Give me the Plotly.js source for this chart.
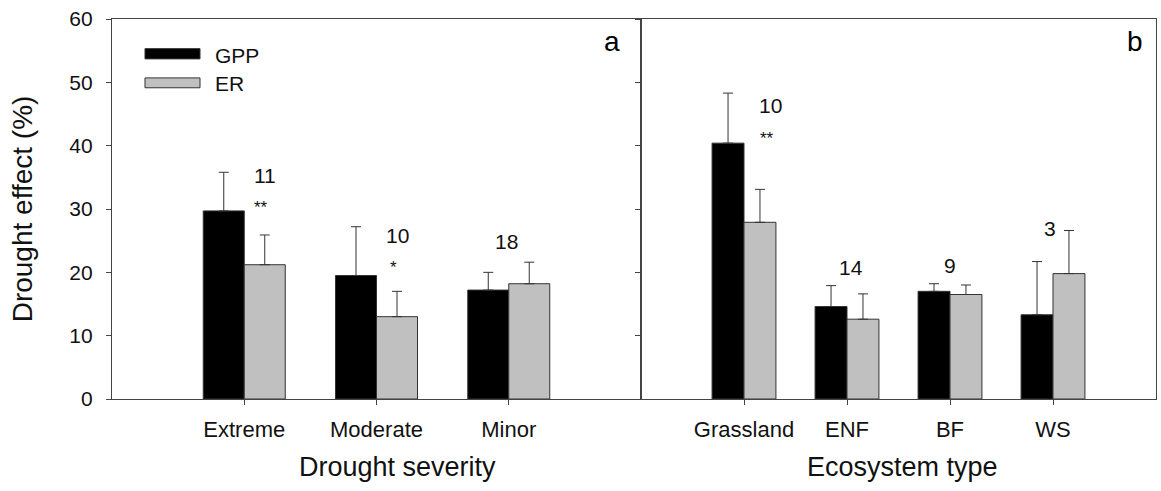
<!DOCTYPE html>
<html>
<head>
<meta charset="utf-8">
<script src="https://cdn.plot.ly/plotly-3.0.1.min.js"></script>
<style>html,body{margin:0;padding:0;background:#fff}#chart{width:1161px;height:491px}</style>
</head>
<body>
<div id="chart"></div>
<script>
// Panel a: drought severity
const severityCats = ["Extreme", "Moderate", "Minor"];
const severityGPP = [29.7, 19.5, 17.2];
const severityGPPErr = [6.1, 7.7, 2.8];
const severityER = [21.2, 13.0, 18.2];
const severityERErr = [4.7, 4.0, 3.4];
const severityN = ["11", "10", "18"];
const severitySig = ["**", "*", ""];

// Panel b: ecosystem type
const ecoCats = ["Grassland", "ENF", "BF", "WS"];
const ecoGPP = [40.4, 14.6, 17.0, 13.3];
const ecoGPPErr = [7.9, 3.3, 1.2, 8.4];
const ecoER = [27.9, 12.6, 16.5, 19.8];
const ecoERErr = [5.2, 4.0, 1.5, 6.8];
const ecoN = ["10", "14", "9", "3"];
const ecoSig = ["**", "", "", ""];

const yTicks = [0, 10, 20, 30, 40, 50, 60];
const seriesNames = ["GPP", "ER"];

const FONT = "Liberation Sans, Arial, sans-serif";
const gpp = "#000000", er = "#c0c0c0", edge = "#333333";

function bar(x, y, err, name, color, xa, ya) {
  return {
    type: "bar", x: x, y: y, name: name, xaxis: xa, yaxis: ya, showlegend: false,
    marker: {color: color, line: {color: edge, width: 1}},
    error_y: {type: "data", symmetric: false, array: err, arrayminus: err.map(() => 0),
              color: "#333", thickness: 1, width: 5}
  };
}

const data = [
  bar(severityCats, severityGPP, severityGPPErr, seriesNames[0], gpp, "x", "y"),
  bar(severityCats, severityER, severityERErr, seriesNames[1], er, "x", "y"),
  bar(ecoCats, ecoGPP, ecoGPPErr, seriesNames[0], gpp, "x2", "y2"),
  bar(ecoCats, ecoER, ecoERErr, seriesNames[1], er, "x2", "y2")
];

const numFont = {family: FONT, size: 21, color: "#111"};
const starFont = {family: FONT, size: 17, color: "#111"};
const annotations = [];
function addN(xref, yref, x, y, txt) {
  annotations.push({xref: xref, yref: yref, x: x, y: y, text: txt, showarrow: false, font: numFont,
    xanchor: "center", yanchor: "middle"});
}
function addSig(xref, yref, x, y, txt) {
  annotations.push({xref: xref, yref: yref, x: x, y: y, text: txt, showarrow: false, font: starFont,
    xanchor: "center", yanchor: "middle"});
}
// Panel a labels
severityCats.forEach((c, i) => {
  if (severitySig[i]) {
    const off = i === 0 ? 0 : 0.7;
    addN("x", "y", i + 0.16, severityGPP[i] + 5.6 + off, severityN[i]);
    addSig("x", "y", i + 0.13, severityGPP[i] + 0.6 + off, severitySig[i]);
  } else {
    addN("x", "y", i - 0.02, severityER[i] + severityERErr[i] + 3.3, severityN[i]);
  }
});
// Panel b labels
ecoCats.forEach((c, i) => {
  if (ecoSig[i]) {
    addN("x2", "y2", i + 0.26, ecoGPP[i] + 5.9, ecoN[i]);
    addSig("x2", "y2", i + 0.22, ecoGPP[i] + 0.8, ecoSig[i]);
  } else if (i === 3) {
    addN("x2", "y2", i - 0.03, ecoER[i] + ecoERErr[i] + 0.3, ecoN[i]);
  } else {
    const top = Math.max(ecoGPP[i] + ecoGPPErr[i], ecoER[i] + ecoERErr[i]);
    addN("x2", "y2", i + (i === 1 ? 0.04 : 0), top + 2.9, ecoN[i]);
  }
});
annotations.push({xref: "x", yref: "y", x: 2.78, y: 56.5, text: "a", showarrow: false,
  xanchor: "center", yanchor: "middle", font: {family: FONT, size: 28, color: "#000"}});
annotations.push({xref: "x2", yref: "y2", x: 3.8, y: 56.5, text: "b", showarrow: false,
  xanchor: "center", yanchor: "middle", font: {family: FONT, size: 28, color: "#000"}});

// Axis titles for x (placed as text under each panel)
const titleFont = {family: FONT, size: 27, color: "#111"};
annotations.push({xref: "paper", yref: "paper", x: 0.273, y: -0.18, text: "Drought severity",
  xanchor: "center", yanchor: "middle", showarrow: false, font: titleFont});
annotations.push({xref: "paper", yref: "paper", x: 0.757, y: -0.18, text: "Ecosystem type",
  xanchor: "center", yanchor: "middle", showarrow: false, font: titleFont});

// Legend (wide swatches like the original)
const legendRows = [{name: seriesNames[0], color: gpp, y0: 0.895, y1: 0.922, ty: 0.905},
                    {name: seriesNames[1], color: er, y0: 0.819, y1: 0.845, ty: 0.829}];
const shapes = [];
legendRows.forEach(r => {
  shapes.push({type: "rect", xref: "paper", yref: "paper", x0: 0.0316, x1: 0.0843, y0: r.y0, y1: r.y1,
    fillcolor: r.color, line: {color: edge, width: 1}});
  annotations.push({xref: "paper", yref: "paper", x: 0.0967, y: r.ty, xanchor: "left", yanchor: "middle",
    text: r.name, showarrow: false, font: {family: FONT, size: 21, color: "#111"}});
});

const split = 529 / 1044;
const axisCommon = {showgrid: false, zeroline: false, showline: true, linecolor: "#444", linewidth: 1.2,
  ticks: "outside", ticklen: 5, tickcolor: "#444", mirror: true,
  tickfont: {family: FONT, size: 22, color: "#111"}};

const layout = {
  width: 1161, height: 491,
  margin: {l: 112, r: 5, t: 19, b: 92},
  paper_bgcolor: "#fff", plot_bgcolor: "#fff",
  font: {family: FONT, color: "#111"},
  barmode: "group", bargap: 0.38, bargroupgap: 0,
  showlegend: false,
  xaxis: Object.assign({}, axisCommon, {domain: [0, split], range: [-1, 3], type: "category",
    ticklabelstandoff: 5}),
  xaxis2: Object.assign({}, axisCommon, {domain: [split, 1], range: [-1, 4], type: "category", anchor: "y2",
    ticklabelstandoff: 5}),
  yaxis: Object.assign({}, axisCommon, {range: [0, 60], tickvals: yTicks, ticktext: yTicks.map(String),
    tickfont: {family: FONT, size: 21, color: "#111"}, ticklabelstandoff: 9,
    title: {text: "Drought effect (%)", font: {family: FONT, size: 28, color: "#111"}, standoff: 28}}),
  yaxis2: Object.assign({}, axisCommon, {range: [0, 60], tickvals: yTicks, showticklabels: false,
    anchor: "x2", matches: "y"}),
  shapes: shapes,
  annotations: annotations
};

Plotly.newPlot("chart", data, layout, {displayModeBar: false, staticPlot: true});
</script>
</body>
</html>
